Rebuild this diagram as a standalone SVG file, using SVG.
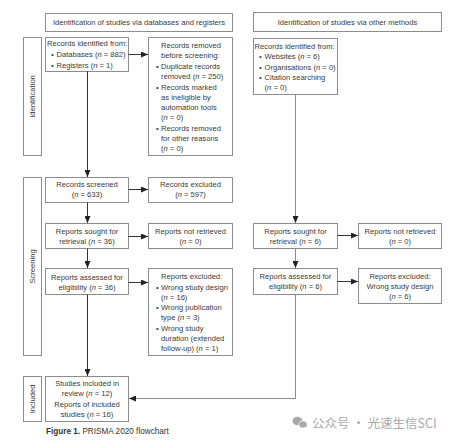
<svg xmlns="http://www.w3.org/2000/svg" width="454" height="442" viewBox="0 0 454 442">
<defs>
<style>
.box{fill:#fff;stroke:#8c8c8c;stroke-width:1}
.t{font-family:"Liberation Sans",Arial,sans-serif;font-size:7.6px;fill:#3a3a3a}
.c{text-anchor:middle}
.ln{fill:none;stroke:#333;stroke-width:1}
.lg{fill:none;stroke:#8c8c8c;stroke-width:1}
.i{font-style:italic}
</style>
<marker id="ah" markerWidth="8" markerHeight="6" refX="7" refY="3" orient="auto" markerUnits="userSpaceOnUse">
<path d="M0,0 L7,3 L0,6 Z" fill="#222"/>
</marker>
</defs>
<rect width="454" height="442" fill="#fff"/>

<g id="hdr-left"><rect class="box" x="45.5" y="13.5" width="187" height="18"/><text class="t c" x="139" y="25.3">Identification of studies via databases and registers</text></g>
<g id="hdr-right"><rect class="box" x="253.5" y="12.5" width="188" height="19"/><text class="t c" x="347.5" y="24.8">Identification of studies via other methods</text></g>

<g id="lbl-ident"><rect class="box" x="23.5" y="37.5" width="18" height="118"/><text class="t c" transform="translate(35.3,96.5) rotate(-90)">Identification</text></g>
<g id="lbl-screen"><rect class="box" x="23.5" y="177.5" width="18" height="178"/><text class="t c" transform="translate(35.3,266.5) rotate(-90)">Screening</text></g>
<g id="lbl-incl"><rect class="box" x="23.5" y="376.5" width="18" height="45"/><text class="t c" transform="translate(35.3,399) rotate(-90)">Included</text></g>

<g id="n-identified">
<rect class="box" x="45.5" y="37.5" width="83" height="34"/>
<text class="t" x="47" y="46">Records identified from:</text>
<text class="t" x="51" y="57">•</text><text class="t" x="56.5" y="57">Databases (<tspan class="i">n</tspan> = 882)</text>
<text class="t" x="51" y="68">•</text><text class="t" x="56.5" y="68">Registers (<tspan class="i">n</tspan> = 1)</text>
</g>
<g id="n-removed">
<rect class="box" x="148.5" y="37.5" width="84" height="118"/>
<text class="t" x="161" y="48">Records removed</text>
<text class="t" x="161" y="58">before screening:</text>
<text class="t" x="156" y="68.5">•</text><text class="t" x="161" y="68.5">Duplicate records</text>
<text class="t" x="161" y="79">removed (<tspan class="i">n</tspan> = 250)</text>
<text class="t" x="156" y="89.5">•</text><text class="t" x="161" y="89.5">Records marked</text>
<text class="t" x="161" y="100">as ineligible by</text>
<text class="t" x="161" y="110">automation tools</text>
<text class="t" x="161" y="120">(<tspan class="i">n</tspan> = 0)</text>
<text class="t" x="156" y="130.5">•</text><text class="t" x="161" y="130.5">Records removed</text>
<text class="t" x="161" y="140.5">for other reasons</text>
<text class="t" x="161" y="150.5">(<tspan class="i">n</tspan> = 0)</text>
</g>
<g id="n-screened"><rect class="box" x="45.5" y="177.5" width="83" height="25"/><text class="t c" x="87" y="187">Records screened</text><text class="t c" x="87" y="197">(<tspan class="i">n</tspan> = 633)</text></g>
<g id="n-excluded"><rect class="box" x="148.5" y="177.5" width="84" height="25"/><text class="t c" x="190.5" y="187">Records excluded</text><text class="t c" x="190.5" y="197">(<tspan class="i">n</tspan> = 597)</text></g>
<g id="n-sought"><rect class="box" x="45.5" y="223.5" width="83" height="25"/><text class="t c" x="87" y="233.5">Reports sought for</text><text class="t c" x="87" y="243.5">retrieval (<tspan class="i">n</tspan> = 36)</text></g>
<g id="n-notret"><rect class="box" x="148.5" y="223.5" width="84" height="25"/><text class="t c" x="190.5" y="233.5">Reports not retrieved</text><text class="t c" x="190.5" y="243.5">(<tspan class="i">n</tspan> = 0)</text></g>
<g id="n-assessed"><rect class="box" x="45.5" y="268.5" width="83" height="26"/><text class="t c" x="87" y="279.5">Reports assessed for</text><text class="t c" x="87" y="289.5">eligibility (<tspan class="i">n</tspan> = 36)</text></g>
<g id="n-repexcl">
<rect class="box" x="148.5" y="268.5" width="84" height="87"/>
<text class="t" x="161" y="279">Reports excluded:</text>
<text class="t" x="156" y="289.5">•</text><text class="t" x="161" y="289.5">Wrong study design</text>
<text class="t" x="161" y="299.5">(<tspan class="i">n</tspan> = 16)</text>
<text class="t" x="156" y="310">•</text><text class="t" x="161" y="310">Wrong publication</text>
<text class="t" x="161" y="320">type (<tspan class="i">n</tspan> = 3)</text>
<text class="t" x="156" y="330.5">•</text><text class="t" x="161" y="330.5">Wrong study</text>
<text class="t" x="161" y="340.5">duration (extended</text>
<text class="t" x="161" y="350.5">follow-up) (<tspan class="i">n</tspan> = 1)</text>
</g>
<g id="n-included">
<rect class="box" x="45.5" y="376.5" width="83" height="45"/>
<text class="t c" x="87" y="386">Studies included in</text>
<text class="t c" x="87" y="396">review (<tspan class="i">n</tspan> = 12)</text>
<text class="t c" x="87" y="406.5">Reports of included</text>
<text class="t c" x="87" y="416.5">studies (<tspan class="i">n</tspan> = 16)</text>
</g>

<g id="n-other-identified">
<rect class="box" x="253.5" y="38.5" width="84" height="56"/>
<text class="t" x="254.5" y="49">Records identified from:</text>
<text class="t" x="259" y="59">•</text><text class="t" x="264.5" y="59">Websites (<tspan class="i">n</tspan> = 6)</text>
<text class="t" x="259" y="69.5">•</text><text class="t" x="264.5" y="69.5">Organisations (<tspan class="i">n</tspan> = 0)</text>
<text class="t" x="259" y="80">•</text><text class="t" x="264.5" y="80">Citation searching</text>
<text class="t" x="264.5" y="90">(<tspan class="i">n</tspan> = 0)</text>
</g>
<g id="n-other-sought"><rect class="box" x="253.5" y="223.5" width="84" height="25"/><text class="t c" x="295.5" y="233.5">Reports sought for</text><text class="t c" x="295.5" y="243.5">retrieval (<tspan class="i">n</tspan> = 6)</text></g>
<g id="n-other-notret"><rect class="box" x="358.5" y="223.5" width="83" height="25"/><text class="t c" x="400" y="233.5">Reports not retrieved</text><text class="t c" x="400" y="243.5">(<tspan class="i">n</tspan> = 0)</text></g>
<g id="n-other-assessed"><rect class="box" x="253.5" y="268.5" width="84" height="26"/><text class="t c" x="295.5" y="279">Reports assessed for</text><text class="t c" x="295.5" y="289">eligibility (<tspan class="i">n</tspan> = 6)</text></g>
<g id="n-other-excl"><rect class="box" x="358.5" y="268.5" width="83" height="35"/><text class="t c" x="400" y="278.5">Reports excluded:</text><text class="t c" x="400" y="288.5">Wrong study design</text><text class="t c" x="400" y="298.5">(<tspan class="i">n</tspan> = 6)</text></g>

<g id="connectors">
<line class="ln" x1="128.5" y1="54.5" x2="148" y2="54.5" marker-end="url(#ah)"/>
<line class="ln" x1="87.5" y1="71.5" x2="87.5" y2="177" marker-end="url(#ah)"/>
<line class="ln" x1="128.5" y1="189.5" x2="148" y2="189.5" marker-end="url(#ah)"/>
<line class="ln" x1="87.5" y1="202.5" x2="87.5" y2="223" marker-end="url(#ah)"/>
<line class="ln" x1="128.5" y1="236.5" x2="148" y2="236.5" marker-end="url(#ah)"/>
<line class="ln" x1="87.5" y1="248.5" x2="87.5" y2="268" marker-end="url(#ah)"/>
<line class="ln" x1="128.5" y1="282.5" x2="148" y2="282.5" marker-end="url(#ah)"/>
<line class="ln" x1="87.5" y1="294.5" x2="87.5" y2="376" marker-end="url(#ah)"/>
<line class="lg" x1="295.5" y1="94.5" x2="295.5" y2="223" marker-end="url(#ah)"/>
<line class="ln" x1="337.5" y1="235.5" x2="358" y2="235.5" marker-end="url(#ah)"/>
<line class="lg" x1="295.5" y1="248.5" x2="295.5" y2="268" marker-end="url(#ah)"/>
<line class="ln" x1="337.5" y1="281.5" x2="358" y2="281.5" marker-end="url(#ah)"/>
<polyline class="lg" points="295.5,294.5 295.5,398.5 129,398.5" marker-end="url(#ah)"/>
</g>

<text x="46" y="434" style="font-family:'Liberation Sans',Arial,sans-serif;font-size:8.2px;fill:#333"><tspan font-weight="bold">Figure 1.</tspan> PRISMA 2020 flowchart</text>

<g id="watermark" fill="#a8a8a8">
<ellipse cx="297.5" cy="421" rx="5" ry="4.2"/>
<ellipse cx="303" cy="424.5" rx="4.2" ry="3.6" stroke="#fff" stroke-width="0.8"/>
<text x="312" y="428" style="font-family:'Noto Sans CJK SC','Liberation Sans',sans-serif;font-size:12.5px;fill:#a8a8a8">公众号 · 光速生信SCI</text>
</g>
</svg>
